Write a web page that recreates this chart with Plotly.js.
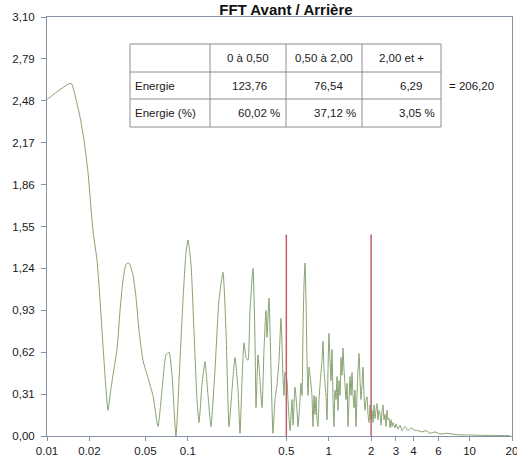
<!DOCTYPE html>
<html>
<head>
<meta charset="utf-8">
<script src="https://cdn.plot.ly/plotly-3.0.1.min.js"></script>
<style>html,body{margin:0;padding:0;background:#fff;}#chart{width:517px;height:457px;}</style>
</head>
<body>
<div id="chart"></div>
<script>
// ---- Data ----
const freq = [0.0100,0.0148,0.01607,0.01715,0.01831,0.01955,0.0212,0.02265,0.02378,0.02497,0.02624,0.0271,0.0280,0.0294,0.0314,0.0330,0.0346,0.0364,0.0382,0.0408,0.0428,0.0450,0.0480,0.0521,0.0565,0.0614,0.0655,0.0699,0.0735,0.0772,0.0823,0.0879,0.0924,0.0970,0.1002,0.1053,0.1105,0.1161,0.120,0.1260,0.1323,0.139,0.1459,0.1558,0.1664,0.1776,0.1865,0.1959,0.2057,0.2161,0.2270,0.2345,0.2423,0.2503,0.2587,0.2672,0.2761,0.2901,0.2996,0.3046,0.3147,0.3251,0.3360,0.3471,0.3587,0.3646,0.3767,0.3892,0.4021,0.4154,0.4294,0.4436,0.4583,0.4735,0.4815,0.4892,0.5054,0.5138,0.5311,0.5488,0.5578,0.5764,0.5955,0.6053,0.6253,0.6356,0.6461,0.6567,0.6676,0.6786,0.6898,0.7012,0.7127,0.7244,0.7364,0.7485,0.7608,0.7733,0.7861,0.7990,0.8122,0.8256,0.8392,0.8531,0.8671,0.8814,0.8959,0.9108,0.9258,0.9410,0.9566,0.9723,0.9883,1.0046,1.0212,1.038,1.0551,1.0725,1.0901,1.108,1.1263,1.1449,1.1638,1.183,1.2025,1.2224,1.2425,1.263,1.2838,1.305,1.3265,1.3486,1.3708,1.3932,1.416,1.4394,1.463,1.487,1.5115,1.5367,1.562,1.588,1.614,1.6406,1.668,1.695,1.723,1.7515,1.7805,1.81,1.840,1.870,1.901,1.932,1.964,1.9964,2.029,2.063,2.097,2.131,2.166,2.202,2.238,2.275,2.312,2.350,2.389,2.429,2.469,2.510,2.551,2.593,2.636,2.679,2.724,2.768,2.814,2.860,2.955,3.004,3.104,3.207,3.313,3.48,3.655,3.839,4.10,4.304,4.596,4.906,5.237,5.683,6.166,6.914,8.093,9.53,12.18,15.56,19.3];
const amplitude = [2.49,2.61,2.49,2.36,2.19,1.95,1.52,1.30,1.01,0.67,0.34,0.19,0.30,0.45,0.64,0.93,1.15,1.27,1.28,1.19,1.03,0.78,0.56,0.43,0.30,0.07,0.34,0.60,0.62,0.45,0.00,0.56,1.01,1.36,1.45,1.27,0.78,0.27,0.10,0.38,0.55,0.30,0.07,0.49,1.01,1.21,0.78,0.07,0.34,0.58,0.34,0.02,0.41,0.69,0.58,0.56,0.93,1.24,0.71,0.21,0.60,0.41,0.21,0.64,0.93,0.73,1.02,0.49,0.02,0.27,0.38,0.56,0.87,0.44,0.30,0.47,0.41,0.27,0.04,0.27,0.08,0.36,0.19,0.07,0.27,0.39,0.30,0.78,1.12,1.28,1.01,0.56,0.30,0.51,0.45,0.38,0.29,0.07,0.30,0.16,0.29,0.12,0.07,0.27,0.38,0.47,0.56,0.70,0.49,0.39,0.30,0.12,0.49,0.76,0.56,0.41,0.64,0.27,0.07,0.34,0.27,0.44,0.19,0.41,0.30,0.58,0.45,0.65,0.49,0.38,0.27,0.39,0.07,0.27,0.44,0.30,0.47,0.30,0.21,0.34,0.07,0.30,0.49,0.61,0.41,0.27,0.38,0.51,0.30,0.19,0.27,0.29,0.16,0.10,0.23,0.12,0.19,0.10,0.23,0.13,0.19,0.24,0.12,0.19,0.17,0.08,0.18,0.23,0.12,0.16,0.07,0.19,0.12,0.13,0.06,0.12,0.07,0.10,0.06,0.09,0.05,0.08,0.04,0.07,0.04,0.06,0.04,0.04,0.03,0.04,0.02,0.03,0.015,0.02,0.01,0.008,0.005,0.004,0.002];
const limits = [0.5, 2];          // vertical band limits
const limitTop = 1.49;            // height of the red markers
const xTicks = [0.01,0.02,0.05,0.1,0.5,1,2,3,4,6,10,20];
const xTickText = ['0.01','0.02','0.05','0.1','0.5','1','2','3','4','6','10','20'];
const yTicks = [0,0.31,0.62,0.93,1.24,1.55,1.86,2.17,2.48,2.79,3.10];
const yTickText = ['0,00','0,31','0,62','0,93','1,24','1,55','1,86','2,17','2,48','2,79','3,10'];
const bandLabels = ['0 à 0,50','0,50 à 2,00','2,00 et +'];
const rowLabels = ['Energie','Energie (%)'];
const energie = ['123,76','76,54','6,29'];
const energiePct = ['60,02 %','37,12 %','3,05 %'];
const totalText = '= 206,20';
const titleText = 'FFT Avant / Arrière';

// ---- Layout helpers (pixel -> paper for decoration only) ----
const L = 47, T = 17, W = 465, H = 419;
const px = v => (v - L) / W;
const py = v => (T + H - v) / H;
const FONT = 'Liberation Sans, Arial, sans-serif';

const traces = [{
  type: 'scatter', mode: 'lines', x: freq, y: amplitude,
  line: {color: '#86a270', width: 1, shape: 'spline', smoothing: 0.5}, hoverinfo: 'skip'
}];
limits.forEach(lim => traces.push({
  type: 'scatter', mode: 'lines', x: [lim, lim], y: [0, limitTop],
  line: {color: '#c4606c', width: 1.5}, hoverinfo: 'skip'
}));

// Table grid
const colX = [130, 210, 286, 362, 441];
const rowY = [44, 72, 99, 127];
const shapes = [];
const gridColor = '#8c8c96';
colX.forEach(x => shapes.push({type:'line', xref:'paper', yref:'paper', x0:px(x), x1:px(x), y0:py(rowY[0]), y1:py(rowY[3]), line:{color:gridColor, width:1}}));
rowY.forEach(y => shapes.push({type:'line', xref:'paper', yref:'paper', x0:px(colX[0]), x1:px(colX[4]), y0:py(y), y1:py(y), line:{color:gridColor, width:1}}));

const annotations = [];
const tf = {family: FONT, size: 11.5, color: '#1a1a1a'};
const rowMid = [58, 86, 113];
function ann(text, x, y, anchor) {
  annotations.push({text: text, xref:'paper', yref:'paper', x:px(x), y:py(y), xanchor:anchor, yanchor:'middle', showarrow:false, font:tf});
}
bandLabels.forEach((t, i) => ann(t, (colX[i+1] + colX[i+2]) / 2, rowMid[0], 'center'));
rowLabels.forEach((t, i) => ann(t, colX[0] + 3, rowMid[i+1], 'left'));
const eAnchorX = [(colX[1]+colX[2])/2 + 1, (colX[2]+colX[3])/2 + 4, colX[4] - 17];
const eAnchor = ['center', 'center', 'right'];
energie.forEach((t, i) => ann(t, eAnchorX[i], rowMid[1], eAnchor[i]));
energiePct.forEach((t, i) => ann(t, colX[i+2] - 4, rowMid[2], 'right'));
ann(totalText, 447, rowMid[1], 'left');

const axisLine = '#8592a6';
const layout = {
  width: 517, height: 457,
  margin: {l: L, r: 517 - L - W, t: T, b: 457 - T - H, pad: 0},
  paper_bgcolor: '#ffffff', plot_bgcolor: '#ffffff',
  showlegend: false,
  title: {text: titleText, x: 0.553, xanchor: 'center', y: 0.967, yanchor: 'bottom', yref: 'container',
          font: {family: FONT, size: 15, color: '#111', weight: 'bold'}},
  xaxis: {type: 'log', range: [Math.log10(0.01), Math.log10(20)],
          tickmode: 'array', tickvals: xTicks, ticktext: xTickText,
          ticks: 'outside', ticklen: 4, tickcolor: axisLine, tickwidth: 1,
          ticklabeloverflow: 'allow',
          showline: true, linecolor: axisLine, linewidth: 1, mirror: true,
          showgrid: false, zeroline: false,
          tickfont: {family: FONT, size: 11.5, color: '#1a1a1a'}},
  yaxis: {range: [0, 3.10], tickmode: 'array', tickvals: yTicks, ticktext: yTickText,
          ticks: 'outside', ticklen: 5, tickcolor: axisLine, tickwidth: 1,
          ticklabelstandoff: 4,
          showline: true, linecolor: axisLine, linewidth: 1, mirror: true,
          showgrid: false, zeroline: false,
          tickfont: {family: FONT, size: 11.5, color: '#1a1a1a'}},
  shapes: shapes,
  annotations: annotations
};

Plotly.newPlot('chart', traces, layout, {staticPlot: true, displayModeBar: false});
</script>
</body>
</html>
